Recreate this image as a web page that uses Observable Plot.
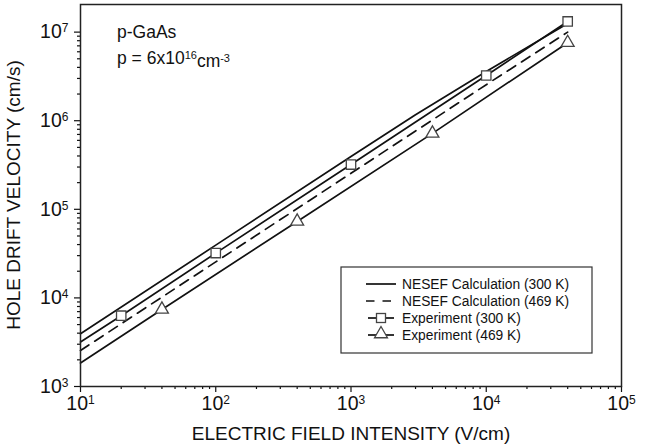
<!DOCTYPE html>
<html><head><meta charset="utf-8">
<script src="https://cdn.jsdelivr.net/npm/d3@7"></script>
<script src="https://cdn.jsdelivr.net/npm/@observablehq/plot@0.6"></script>
<style>
body{margin:0;background:#fff;font-family:"Liberation Sans",Arial,sans-serif;}
#chart{width:648px;height:448px;}
</style></head><body><div id="chart"></div>
<script>
// ---- data ----
const xMajor = [1e1, 1e2, 1e3, 1e4, 1e5];
const yMajor = [1e3, 1e4, 1e5, 1e6, 1e7];
const xTickExp = ["1", "2", "3", "4", "5"];
const yTickExp = ["3", "4", "5", "6", "7"];

const nesef300E = [10, 100, 1000, 3000, 10000, 40000];
const nesef300V = [3940, 39400, 394000, 1170000, 3600000, 12500000];
const nesef469E = [10, 100, 1000, 10000, 40000];
const nesef469V = [2550, 25500, 255000, 2550000, 10000000];
const exp300LineE = [10, 20, 100, 1000, 10000, 40000];
const exp300LineV = [3180, 6300, 32000, 320000, 3240000, 13200000];
const exp469LineE = [10, 40, 400, 4000, 40000];
const exp469LineV = [1840, 7400, 73000, 720000, 7600000];
const exp300E = [20, 100, 1000, 10000, 40000];
const exp300V = [6300, 32100, 320000, 3240000, 13200000];
const exp469E = [40, 400, 4000, 40000];
const exp469V = [7430, 73100, 720000, 7600000];

const legendLabels = ["NESEF Calculation (300 K)", "NESEF Calculation (469 K)", "Experiment (300 K)", "Experiment (469 K)"];

// ---- helpers ----
const rows = (E, V) => E.map((e, i) => ({e, v: V[i]}));
const minorTicks = (majors) => {
  const out = [];
  for (let i = 0; i < majors.length - 1; i++) for (let k = 2; k <= 9; k++) out.push(k * majors[i]);
  return out;
};
const FONT = "Liberation Sans, Arial, Helvetica, sans-serif";
const INK = "#111";

const svg = Plot.plot({
  width: 648, height: 448,
  marginLeft: 80, marginRight: 27, marginTop: 4, marginBottom: 62,
  style: {fontFamily: FONT, background: "#fff", color: INK},
  x: {type: "log", domain: [10, 1e5]},
  y: {type: "log", domain: [1e3, 2.05e7]},
  marks: [
    Plot.axisX(minorTicks(xMajor), {tickSize: 3, tickFormat: () => "", label: null, strokeWidth: 1.2}),
    Plot.axisX(xMajor, {tickSize: 6, tickPadding: 4, label: null, strokeWidth: 1.2,
      tickFormat: (d) => "10^" + xTickExp[xMajor.indexOf(d)]}),
    Plot.axisY(minorTicks(yMajor), {tickSize: 3, tickFormat: () => "", label: null, strokeWidth: 1.2}),
    Plot.axisY(yMajor, {tickSize: 6, tickPadding: 6, label: null, strokeWidth: 1.2,
      tickFormat: (d) => "10^" + yTickExp[yMajor.indexOf(d)]}),
    Plot.line(rows(nesef300E, nesef300V), {x: "e", y: "v", stroke: INK, strokeWidth: 1.7}),
    Plot.line(rows(exp300LineE, exp300LineV), {x: "e", y: "v", stroke: INK, strokeWidth: 1.7}),
    Plot.line(rows(nesef469E, nesef469V), {x: "e", y: "v", stroke: INK, strokeWidth: 1.7, strokeDasharray: "10,7"}),
    Plot.line(rows(exp469LineE, exp469LineV), {x: "e", y: "v", stroke: INK, strokeWidth: 1.7}),
    Plot.dot(rows(exp300E, exp300V), {x: "e", y: "v", symbol: "square", r: 5.3, fill: "#fff", stroke: "#444", strokeWidth: 1.3}),
    Plot.dot(rows(exp469E, exp469V), {x: "e", y: "v", symbol: "triangle", r: 4.8, fill: "#fff", stroke: "#444", strokeWidth: 1.3}),
    Plot.frame({stroke: "#222", strokeWidth: 1.5})
  ]
});

// superscript tick labels
d3.select(svg).selectAll("text").each(function () {
  const t = this.textContent;
  if (t.includes("^")) {
    const [base, exp] = t.split("^");
    const sel = d3.select(this);
    sel.text(null).style("font-size", "19.5px").attr("fill", INK);
    sel.append("tspan").text(base);
    sel.append("tspan").attr("dy", "-0.5em").style("font-size", "12px").text(exp);
  }
});

const s = d3.select(svg);
// axis titles
s.append("text").attr("x", 351).attr("y", 440).attr("text-anchor", "middle")
  .style("font-size", "19px").attr("fill", INK).attr("font-family", FONT)
  .text("ELECTRIC FIELD INTENSITY (V/cm)");
s.append("text").attr("transform", "translate(20,195) rotate(-90)").attr("text-anchor", "middle")
  .style("font-size", "19px").attr("fill", INK).attr("font-family", FONT)
  .text("HOLE DRIFT VELOCITY (cm/s)");

// annotation
s.append("text").attr("x", 117).attr("y", 38).attr("text-anchor", "start").style("font-size", "17.5px").attr("fill", INK).attr("font-family", FONT).text("p-GaAs");
const a2 = s.append("text").attr("x", 117).attr("y", 64).attr("text-anchor", "start").style("font-size", "17.5px").attr("fill", INK).attr("font-family", FONT);
a2.append("tspan").text("p = 6x10");
a2.append("tspan").attr("dy", "-0.5em").style("font-size", "11px").text("16");
a2.append("tspan").attr("dy", "0.5em").text("cm");
a2.append("tspan").attr("dy", "-0.5em").style("font-size", "11px").text("-3");

// legend
const lg = s.append("g").attr("font-family", FONT).style("font-size", "13.8px").attr("fill", INK).attr("text-anchor", "start");
lg.append("rect").attr("x", 341).attr("y", 267).attr("width", 251).attr("height", 86)
  .attr("fill", "#fff").attr("stroke", "#333").attr("stroke-width", 1.2);
const rowY = [284, 301, 318, 335];
lg.append("line").attr("x1", 366).attr("x2", 396).attr("y1", rowY[0]).attr("y2", rowY[0]).attr("stroke", INK).attr("stroke-width", 1.7);
lg.append("line").attr("x1", 366).attr("x2", 391).attr("y1", rowY[1]).attr("y2", rowY[1]).attr("stroke", INK).attr("stroke-width", 1.7).attr("stroke-dasharray", "8.5,8");
lg.append("line").attr("x1", 368).attr("x2", 394).attr("y1", rowY[2]).attr("y2", rowY[2]).attr("stroke", INK).attr("stroke-width", 1.7);
lg.append("rect").attr("x", 376.5).attr("y", rowY[2] - 4.5).attr("width", 9).attr("height", 9).attr("fill", "#fff").attr("stroke", "#444").attr("stroke-width", 1.3);
lg.append("line").attr("x1", 368).attr("x2", 394).attr("y1", rowY[3]).attr("y2", rowY[3]).attr("stroke", INK).attr("stroke-width", 1.7);
lg.append("path").attr("d", d3.symbol(d3.symbolTriangle, Math.PI * 4.8 * 4.8)()).attr("transform", `translate(381,${rowY[3] - 1})`)
  .attr("fill", "#fff").attr("stroke", "#444").attr("stroke-width", 1.3);
legendLabels.forEach((t, i) => {
  lg.append("text").attr("x", 402).attr("y", rowY[i]).attr("dy", "0.36em").text(t);
});

document.getElementById("chart").appendChild(svg);
</script></body></html>
